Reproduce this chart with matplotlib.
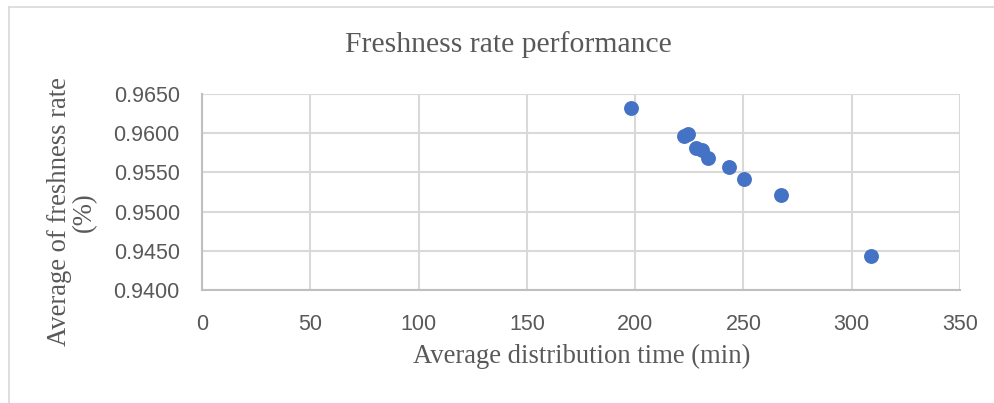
import matplotlib
matplotlib.use("Agg")
import matplotlib.pyplot as plt
from matplotlib.lines import Line2D

# Data
dist_time = [198, 222.5, 224.5, 228, 231, 233.5, 243.3, 250.2, 267.5, 309]
freshness = [0.9632, 0.9597, 0.9599, 0.9581, 0.9578, 0.9569, 0.9557, 0.9541, 0.9521, 0.9443]
x_ticks = [0, 50, 100, 150, 200, 250, 300, 350]
y_ticks = [0.9400, 0.9450, 0.9500, 0.9550, 0.9600, 0.9650]

W, H = 995, 403
fig = plt.figure(figsize=(W / 100, H / 100), dpi=100)
ax = fig.add_axes([202 / W, 1 - 290 / H, (960 - 202) / W, (290 - 94) / H])

ax.scatter(dist_time, freshness, s=115, color="#4472C4", zorder=3, linewidths=0)
ax.set_xlim(0, 350)
ax.set_ylim(0.94, 0.965)
ax.set_xticks(x_ticks)
ax.set_yticks(y_ticks)
ax.set_yticklabels([f"{v:.4f}" for v in y_ticks])
ax.grid(True, color="#D9D9D9", linewidth=1.5)
ax.set_axisbelow(True)
for s in ["top", "right"]:
    ax.spines[s].set_visible(False)
for s in ["left", "bottom"]:
    ax.spines[s].set_color("#BFBFBF")
    ax.spines[s].set_linewidth(1.5)
ax.tick_params(length=0, labelsize=15.5, labelcolor="#595959")
ax.tick_params(axis="y", pad=16)
ax.tick_params(axis="x", pad=17)
for lab in ax.get_xticklabels() + ax.get_yticklabels():
    lab.set_fontfamily("Liberation Sans")

fig.text(508 / W, 1 - 45 / H, "Freshness rate performance", ha="center", va="center",
         fontsize=21.3, color="#595959", family="Liberation Serif")
fig.text(582 / W, 1 - 356 / H, "Average distribution time (min)", ha="center", va="center",
         fontsize=19.2, color="#595959", family="Liberation Serif")
fig.text(72 / W, 1 - 212 / H, "Average of freshness rate\n(%)", ha="center", va="center",
         rotation=90, fontsize=19.2, color="#595959", family="Liberation Serif",
         multialignment="center", linespacing=1.0)

# chart border (left and top visible)
fig.add_artist(Line2D([9 / W, 9 / W], [0, 1 - 7 / H], transform=fig.transFigure,
                      color="#D9D9D9", linewidth=1.2))
fig.add_artist(Line2D([9 / W, 1], [1 - 7 / H, 1 - 7 / H], transform=fig.transFigure,
                      color="#D9D9D9", linewidth=1.2))

fig.savefig("out.png", dpi=100)
